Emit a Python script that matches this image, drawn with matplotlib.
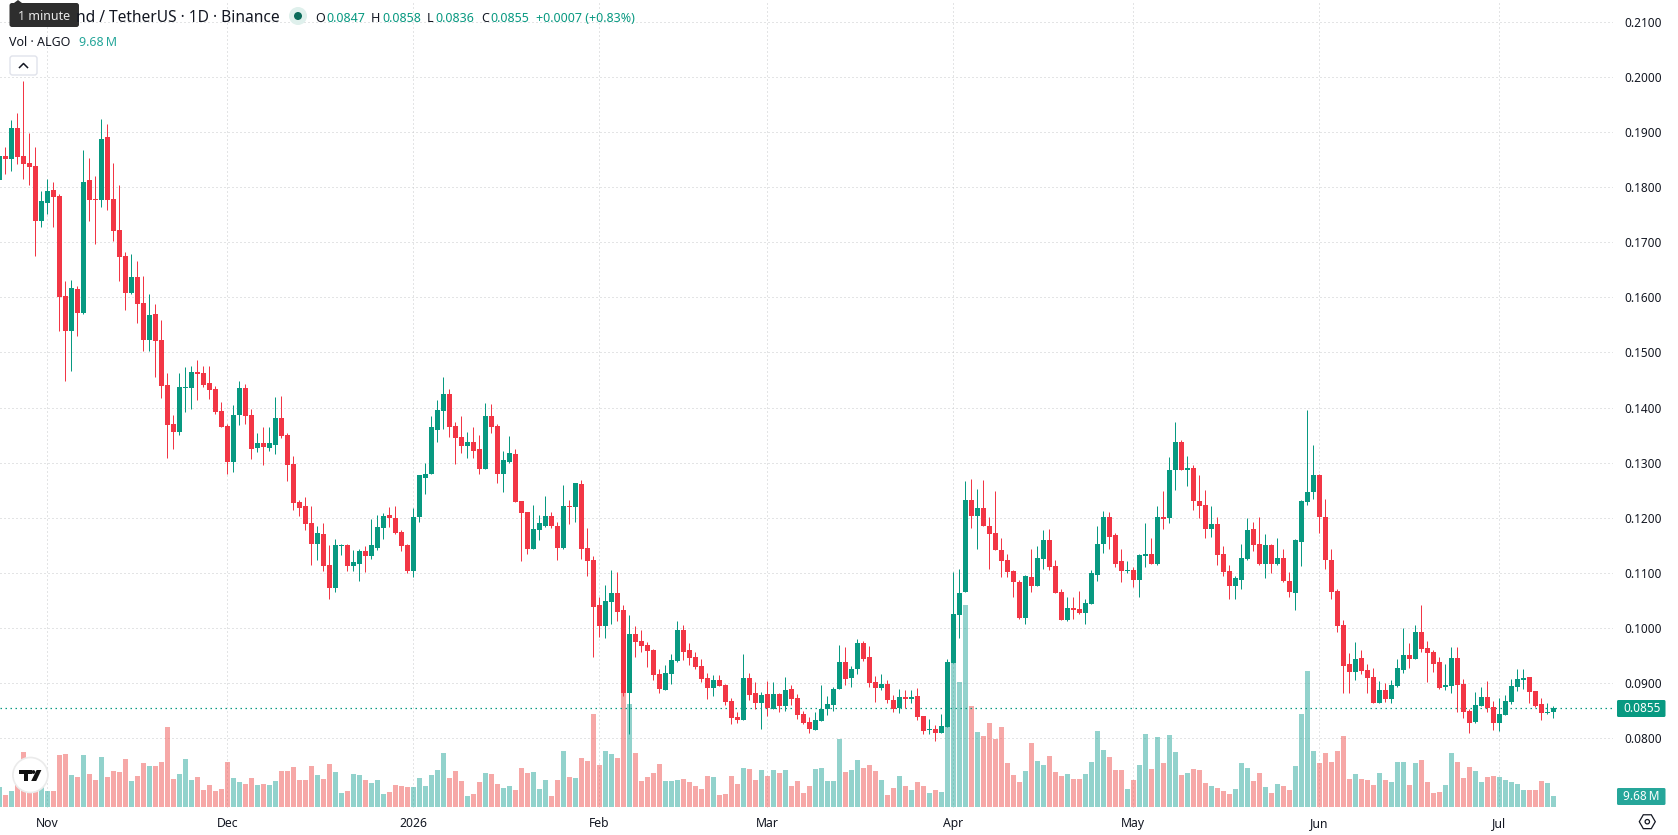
import numpy as np
import matplotlib
matplotlib.use('Agg')
import matplotlib.pyplot as plt
from matplotlib.patches import Circle, FancyBboxPatch, Polygon, Rectangle, RegularPolygon

plt.rcParams['font.family'] = ['Noto Sans', 'DejaVu Sans']

# daily ALGO/USDT candles, 24 Oct 2025 to 10 Jul 2026
opens = [
    .1813, .1857, .1851, .1908, .1857, .1844, .1839, .1739, .1772, .1795,
    .1784, .1602, .1539, .1615, .1572, .1812, .1779, .1777, .1890, .1779,
    .1722, .1675, .1608, .1637, .1590, .1522, .1570, .1522, .1441, .1370,
    .1355, .1435, .1435, .1464, .1462, .1444, .1433, .1393, .1366, .1302,
    .1386, .1435, .1386, .1326, .1335, .1326, .1333, .1381, .1350, .1297,
    .1228, .1221, .1190, .1153, .1170, .1115, .1072, .1148, .1150, .1113,
    .1117, .1139, .1130, .1146, .1181, .1206, .1199, .1175, .1150, .1104,
    .1202, .1273, .1279, .1360, .1394, .1424, .1366, .1346, .1331, .1338,
    .1324, .1288, .1385, .1366, .1279, .1302, .1315, .1230, .1211, .1143,
    .1177, .1186, .1204, .1186, .1146, .1222, .1219, .1262, .1146, .1123,
    .1041, .1004, .1048, .1064, .1032, .0882, .0990, .0977, .0970, .0961,
    .0917, .0888, .0917, .0941, .0997, .0961, .0948, .0932, .0910, .0892,
    .0906, .0897, .0868, .0839, .0833, .0910, .0882, .0864, .0881, .0853,
    .0881, .0859, .0890, .0873, .0844, .0830, .0815, .0832, .0853, .0861,
    .0890, .0939, .0910, .0926, .0973, .0948, .0902, .0892, .0899, .0870,
    .0855, .0875, .0872, .0877, .0841, .0815, .0817, .0810, .0821, .0937,
    .1024, .1065, .1233, .1204, .1217, .1186, .1172, .1141, .1123, .1103,
    .1083, .1019, .1092, .1077, .1126, .1159, .1112, .1065, .1014, .1036,
    .1034, .1028, .1043, .1097, .1152, .1202, .1168, .1121, .1103, .1105,
    .1088, .1130, .1134, .1117, .1201, .1199, .1286, .1337, .1286, .1291,
    .1231, .1224, .1179, .1188, .1134, .1103, .1077, .1088, .1126, .1179,
    .1152, .1117, .1150, .1117, .1128, .1086, .1063, .1157, .1228, .1246,
    .1277, .1202, .1124, .1067, .1006, .0935, .0921, .0946, .0924, .0912,
    .0864, .0888, .0872, .0895, .0924, .0952, .0944, .0993, .0964, .0957,
    .0939, .0893, .0895, .0946, .0899, .0850, .0830, .0859, .0875, .0857,
    .0828, .0842, .0866, .0893, .0906, .0912, .0886, .0862, .0846, .0847,
]
highs = [
    .1857, .1872, .1922, .1935, .1993, .1899, .1872, .1793, .1815, .1810,
    .1788, .1630, .1632, .1621, .1868, .1853, .1821, .1924, .1915, .1844,
    .1804, .1682, .1679, .1666, .1639, .1606, .1588, .1559, .1462, .1386,
    .1462, .1473, .1475, .1486, .1475, .1475, .1439, .1410, .1370, .1404,
    .1448, .1442, .1397, .1353, .1364, .1364, .1419, .1421, .1354, .1313,
    .1232, .1237, .1222, .1186, .1190, .1150, .1162, .1153, .1153, .1142,
    .1144, .1148, .1197, .1206, .1208, .1219, .1222, .1177, .1153, .1217,
    .1277, .1300, .1385, .1413, .1456, .1433, .1373, .1385, .1355, .1364,
    .1351, .1409, .1407, .1371, .1322, .1349, .1324, .1230, .1211, .1224,
    .1206, .1240, .1211, .1193, .1260, .1233, .1264, .1269, .1181, .1130,
    .1057, .1079, .1106, .1102, .1042, .1024, .1004, .0997, .0975, .0962,
    .0926, .0933, .0953, .1013, .1006, .0973, .0957, .0944, .0919, .0915,
    .0915, .0899, .0873, .0848, .0953, .0919, .0902, .0884, .0904, .0902,
    .0882, .0912, .0897, .0881, .0850, .0839, .0848, .0897, .0877, .0893,
    .0970, .0966, .0932, .0981, .0977, .0968, .0913, .0917, .0906, .0879,
    .0890, .0888, .0888, .0892, .0841, .0835, .0824, .0844, .0944, .1102,
    .1108, .1266, .1271, .1253, .1269, .1202, .1248, .1163, .1134, .1106,
    .1088, .1097, .1144, .1148, .1177, .1179, .1123, .1070, .1057, .1056,
    .1068, .1052, .1105, .1186, .1213, .1211, .1173, .1143, .1121, .1110,
    .1135, .1190, .1164, .1221, .1248, .1311, .1373, .1342, .1313, .1295,
    .1277, .1251, .1221, .1201, .1148, .1114, .1095, .1152, .1199, .1193,
    .1201, .1170, .1152, .1164, .1143, .1101, .1161, .1233, .1396, .1333,
    .1279, .1235, .1144, .1070, .1015, .0955, .0975, .0961, .0935, .0928,
    .0904, .0901, .0906, .0944, .1001, .0972, .1006, .1041, .0977, .0961,
    .0948, .0935, .0966, .0966, .0908, .0853, .0884, .0893, .0904, .0868,
    .0873, .0879, .0908, .0926, .0926, .0912, .0886, .0873, .0864, .0858,
]
lows = [
    .1810, .1824, .1830, .1842, .1815, .1804, .1675, .1728, .1752, .1728,
    .1539, .1448, .1466, .1530, .1570, .1739, .1697, .1764, .1759, .1702,
    .1630, .1577, .1606, .1553, .1502, .1502, .1455, .1417, .1308, .1324,
    .1350, .1392, .1397, .1413, .1437, .1415, .1388, .1364, .1279, .1284,
    .1368, .1370, .1306, .1319, .1295, .1322, .1315, .1344, .1266, .1215,
    .1204, .1177, .1115, .1124, .1104, .1052, .1066, .1132, .1104, .1104,
    .1086, .1101, .1126, .1142, .1161, .1184, .1170, .1139, .1099, .1093,
    .1193, .1244, .1279, .1338, .1362, .1347, .1297, .1318, .1309, .1308,
    .1280, .1288, .1353, .1264, .1246, .1300, .1228, .1121, .1135, .1143,
    .1159, .1184, .1181, .1123, .1144, .1188, .1193, .1126, .1094, .0948,
    .0984, .0982, .1008, .1012, .0877, .0808, .0948, .0957, .0930, .0906,
    .0882, .0888, .0899, .0939, .0942, .0933, .0926, .0902, .0872, .0877,
    .0895, .0861, .0826, .0828, .0833, .0870, .0853, .0817, .0841, .0853,
    .0848, .0850, .0861, .0835, .0826, .0810, .0815, .0832, .0842, .0850,
    .0890, .0897, .0893, .0917, .0941, .0893, .0866, .0888, .0864, .0848,
    .0846, .0855, .0864, .0833, .0808, .0808, .0795, .0810, .0821, .0937,
    .0982, .1065, .1181, .1143, .1186, .1108, .1141, .1092, .1092, .1057,
    .1016, .1008, .1065, .1077, .1108, .1105, .1063, .1014, .1012, .1016,
    .1025, .1008, .1043, .1085, .1137, .1144, .1110, .1083, .1099, .1074,
    .1057, .1110, .1117, .1115, .1179, .1190, .1251, .1286, .1257, .1215,
    .1199, .1163, .1166, .1114, .1095, .1052, .1052, .1070, .1123, .1139,
    .1114, .1090, .1099, .1115, .1083, .1057, .1032, .1112, .1224, .1235,
    .1172, .1108, .1052, .0992, .0882, .0882, .0906, .0917, .0882, .0864,
    .0864, .0866, .0864, .0893, .0919, .0928, .0944, .0957, .0902, .0921,
    .0890, .0888, .0882, .0848, .0837, .0810, .0828, .0859, .0848, .0815,
    .0813, .0842, .0862, .0886, .0890, .0864, .0857, .0833, .0844, .0836,
]
closes = [
    .1857, .1851, .1908, .1855, .1842, .1837, .1739, .1775, .1793, .1782,
    .1601, .1539, .1617, .1572, .1810, .1777, .1777, .1888, .1777, .1721,
    .1673, .1608, .1637, .1588, .1522, .1568, .1521, .1439, .1368, .1355,
    .1437, .1437, .1464, .1461, .1441, .1432, .1392, .1364, .1302, .1386,
    .1435, .1384, .1324, .1335, .1328, .1335, .1381, .1348, .1295, .1226,
    .1217, .1188, .1153, .1172, .1113, .1072, .1150, .1150, .1113, .1119,
    .1139, .1130, .1150, .1184, .1204, .1199, .1172, .1148, .1104, .1202,
    .1277, .1280, .1364, .1396, .1424, .1364, .1344, .1331, .1338, .1322,
    .1289, .1385, .1364, .1279, .1304, .1317, .1228, .1208, .1143, .1179,
    .1190, .1204, .1186, .1146, .1222, .1220, .1264, .1144, .1121, .1039,
    .1004, .1050, .1064, .1030, .0882, .0990, .0975, .0968, .0959, .0915,
    .0890, .0919, .0942, .0997, .0957, .0946, .0930, .0908, .0892, .0906,
    .0895, .0866, .0837, .0833, .0910, .0879, .0864, .0879, .0855, .0881,
    .0859, .0888, .0872, .0842, .0828, .0817, .0833, .0853, .0862, .0890,
    .0939, .0908, .0926, .0973, .0944, .0901, .0892, .0899, .0870, .0853,
    .0875, .0872, .0875, .0839, .0813, .0817, .0810, .0822, .0939, .1026,
    .1064, .1233, .1204, .1217, .1186, .1170, .1141, .1121, .1101, .1083,
    .1018, .1094, .1077, .1128, .1159, .1110, .1063, .1014, .1036, .1032,
    .1028, .1045, .1099, .1153, .1201, .1166, .1117, .1103, .1105, .1088,
    .1132, .1134, .1117, .1202, .1197, .1286, .1337, .1286, .1291, .1230,
    .1222, .1179, .1188, .1132, .1101, .1077, .1090, .1128, .1177, .1150,
    .1117, .1150, .1117, .1128, .1085, .1065, .1159, .1230, .1246, .1277,
    .1202, .1123, .1065, .1004, .0932, .0921, .0944, .0922, .0910, .0864,
    .0888, .0872, .0897, .0928, .0952, .0944, .0993, .0962, .0955, .0935,
    .0892, .0897, .0946, .0897, .0848, .0828, .0861, .0875, .0855, .0828,
    .0844, .0868, .0895, .0908, .0910, .0884, .0859, .0846, .0847, .0855,
]
# traded volume per day, millions of ALGO
volumes = [
    18.2, 10.9, 14.5, 28.2, 50.0, 24.5, 24.5, 20.0, 14.5, 14.5,
    47.3, 48.2, 29.1, 27.3, 47.3, 30.0, 24.5, 45.5, 27.3, 32.7,
    31.8, 43.6, 23.6, 28.2, 40.0, 37.3, 37.3, 40.9, 72.7, 25.5,
    30.0, 43.6, 24.5, 27.3, 15.5, 20.0, 14.5, 16.4, 40.9, 26.4,
    22.7, 20.9, 26.4, 20.0, 20.9, 20.0, 23.6, 32.7, 32.7, 36.4,
    24.5, 24.5, 37.3, 29.1, 25.5, 39.1, 31.8, 12.7, 14.5, 30.0,
    29.1, 24.5, 21.8, 24.5, 11.8, 13.6, 20.0, 19.1, 18.2, 18.2,
    26.4, 19.1, 29.1, 33.6, 49.1, 26.4, 32.7, 23.6, 10.0, 11.8,
    22.7, 30.9, 30.0, 20.9, 17.3, 19.1, 15.5, 35.5, 30.9, 31.8,
    16.1, 24.2, 9.7, 24.2, 50.6, 27.0, 26.1, 44.2, 41.5, 84.2,
    37.9, 50.6, 47.9, 44.2, 103.3, 93.3, 48.8, 23.3, 27.0, 30.6,
    38.8, 23.3, 23.3, 24.2, 25.2, 22.4, 18.8, 16.1, 27.9, 27.0,
    10.6, 11.5, 27.9, 20.6, 35.2, 34.2, 24.2, 33.3, 27.9, 33.3,
    30.6, 33.3, 18.8, 23.3, 12.4, 18.8, 34.2, 35.2, 23.3, 23.3,
    61.5, 31.5, 33.3, 42.4, 35.2, 37.9, 32.4, 24.2, 10.6, 17.0,
    27.9, 18.8, 15.2, 22.4, 18.8, 12.4, 15.2, 13.3, 72.7, 130.6,
    113.3, 183.3, 91.5, 67.9, 64.2, 76.1, 61.5, 72.4, 39.7, 28.8,
    22.4, 32.4, 57.9, 41.5, 37.9, 46.1, 31.5, 27.9, 29.7, 25.2,
    25.2, 29.7, 40.6, 68.8, 51.5, 45.2, 33.3, 33.3, 16.1, 24.2,
    37.9, 66.1, 34.2, 63.3, 39.7, 65.2, 49.7, 28.8, 30.6, 34.2,
    33.3, 21.5, 18.8, 17.0, 14.2, 11.5, 16.1, 39.7, 35.2, 23.3,
    30.6, 17.9, 12.4, 20.6, 18.8, 15.2, 37.0, 84.2, 123.3, 50.6,
    39.7, 48.8, 40.6, 50.6, 64.2, 25.2, 29.7, 25.2, 24.2, 19.7,
    30.6, 24.2, 22.4, 40.6, 40.6, 19.7, 39.7, 42.4, 22.4, 12.4,
    13.3, 19.7, 48.8, 40.6, 26.1, 36.1, 32.4, 22.4, 27.0, 27.9,
    27.0, 24.2, 22.4, 20.6, 15.2, 15.2, 15.2, 23.3, 21.5, 9.68,
]

price_ticks = [.08, .09, .10, .11, .12, .13, .14, .15, .16, .17, .18, .19, .20, .21]
bold_prices = [.10, .15, .20]
month_idx = [8, 38, 69, 100, 128, 159, 189, 220, 250]
month_labels = ['Nov', 'Dec', '2026', 'Feb', 'Mar', 'Apr', 'May', 'Jun', 'Jul']
last_close = closes[-1]

UP = '#089981'
DOWN = '#F23645'
VOL_UP = '#26a69a'
VOL_DOWN = '#ef5350'
GRID = '#c8cacd'
TEXT = '#131722'

W, H = 1678, 835
PANE_W, PANE_H = 1613, 808
STEP = 6.0   # pixels per candle


def y_limits():
    # 55.12 px per cent, with 0.08 sitting 738.3 px below the top
    top = .08 + 738.3 / 5512
    bottom = .08 - (PANE_H - 738.3) / 5512
    return bottom, top


fig = plt.figure(figsize=(W / 100, H / 100), dpi=100)
ax = fig.add_axes([0, (H - PANE_H) / H, PANE_W / W, PANE_H / H])
ax.set_xlim(0.7 / STEP, (PANE_W + 0.7) / STEP)
ax.set_ylim(*y_limits())
for s in ax.spines.values():
    s.set_visible(False)

x = np.arange(len(closes))
o = np.array(opens)
c = np.array(closes)
rising = c >= o

# volume pane shares the time axis, 1.1 px per million above the base
vol_ax = ax.twinx()
vol_ax.set_ylim(-(PANE_H - 806.7) / 1.1, 806.7 / 1.1)
vol_ax.axis('off')
vol_ax.bar(x, volumes, width=5 / STEP, color=[VOL_UP if r else VOL_DOWN for r in rising],
           alpha=0.5, linewidth=0)

candle_ax = ax.twinx()
candle_ax.set_ylim(*y_limits())
candle_ax.axis('off')
candle_ax.axhline(last_close, color=UP, lw=0.9, linestyle=(0, (1.2, 2.8)), zorder=1)
colors = [UP if r else DOWN for r in rising]
candle_ax.vlines(x, lows, highs, colors=colors, lw=0.72, zorder=2)
candle_ax.bar(x, np.abs(c - o), bottom=np.minimum(o, c), width=5 / STEP, color=colors,
              linewidth=0, zorder=3)

ax.set_xticks(month_idx)
ax.set_xticklabels(month_labels, fontsize=8.8, color=TEXT)
ax.set_yticks(price_ticks)
ax.set_yticklabels([])
ax.tick_params(axis='x', length=0, pad=6.5)
ax.tick_params(axis='y', length=0)
ax.grid(True, color=GRID, lw=0.72, linestyle=(0, (1, 3)))
ax.get_xticklabels()[month_labels.index('2026')].set_fontweight('bold')

# price scale on the right, round numbers in bold
for p in price_ticks:
    ax.text(1624 / PANE_W, p, '%.4f' % p, transform=ax.get_yaxis_transform(),
            fontsize=8.5, color=TEXT, ha='left', va='center_baseline',
            fontweight='bold' if p in bold_prices else 'normal')

# header, tags and logo live on a pixel overlay
ov = fig.add_axes([0, 0, 1, 1], facecolor='none')
ov.set_xlim(0, W)
ov.set_ylim(H, 0)
ov.axis('off')


def label(px, py, s, color=TEXT, size=9, ha='left', weight='normal'):
    ov.text(px, py, s, color=color, fontsize=size, ha=ha, va='center_baseline', fontweight=weight)


label(280, 16.5, 'nd / TetherUS \u00b7 1D \u00b7 Binance', size=11.2, ha='right')
ov.add_patch(Circle((298, 16), 9, color='#dff0ec', lw=0))
ov.add_patch(Circle((298, 16), 4, color='#0b6b5a', lw=0))

label(315.5, 16.5, 'O', size=9)
label(326, 16.5, '0.0847', UP, 9)
label(371, 16.5, 'H', size=9)
label(382, 16.5, '0.0858', UP, 9)
label(427, 16.5, 'L', size=9)
label(435, 16.5, '0.0836', UP, 9)
label(481, 16.5, 'C', size=9)
label(490, 16.5, '0.0855', UP, 9)
label(536, 16.5, '+0.0007 (+0.83%)', UP, 9)

label(9, 41.5, 'Vol \u00b7 ALGO', size=9)
label(79, 41.5, '9.68\u2009M', VOL_UP, 9)

# collapse button
ov.add_patch(FancyBboxPatch((10, 56), 27, 19, boxstyle='round,pad=0,rounding_size=2.5',
                            fc='white', ec='#e0e3eb', lw=1))
ov.plot([19.5, 23.5, 27.5], [67.5, 63.5, 67.5], color=TEXT, lw=1.1)

# tooltip over the symbol name
ov.add_patch(Polygon([(14, 3), (18, 0), (22, 3)], color='#2e2e2e', lw=0))
ov.add_patch(FancyBboxPatch((9.5, 3), 69.5, 24, boxstyle='round,pad=0,rounding_size=2.5',
                            fc='#2e2e2e', ec='none'))
ov.text(44, 15.5, '1 minute', color='#e8e8e8', fontsize=9, ha='center', va='center_baseline')

# last value tags on the scale
ov.add_patch(FancyBboxPatch((1617, 700), 48.5, 17, boxstyle='round,pad=0,rounding_size=1.5',
                            fc=UP, ec='none'))
ov.text(1642, 708.5, '%.4f' % last_close, color='white', fontsize=8.5, ha='center', va='center')
ov.add_patch(FancyBboxPatch((1617, 788), 48.5, 17, boxstyle='round,pad=0,rounding_size=1.5',
                            fc='#26a69a', ec='none'))
ov.text(1641.5, 796.5, '9.68\u2009M', color='white', fontsize=8.5, ha='center', va='center')

# settings icon
ov.add_patch(RegularPolygon((1647.3, 821.7), 6, radius=8, orientation=np.pi / 6,
                            fc='none', ec=TEXT, lw=0.9))
ov.add_patch(Circle((1647.3, 821.7), 2.2, fc='none', ec=TEXT, lw=0.9))

# watermark logo
ov.add_patch(Circle((30.4, 775), 17.5, fc='white', ec='#ebebeb', lw=1.2))
ov.add_patch(Rectangle((18.6, 770), 13.4, 4, fc='#111111', lw=0))
ov.add_patch(Rectangle((23.6, 770), 4.4, 11, fc='#111111', lw=0))
ov.add_patch(Circle((33.4, 772), 1.9, fc='#111111', lw=0))
ov.add_patch(Polygon([(36.6, 770), (41.4, 770), (36.2, 781), (31.2, 781)], fc='#111111', lw=0))

fig.savefig('out.png', dpi=100, facecolor='white')
